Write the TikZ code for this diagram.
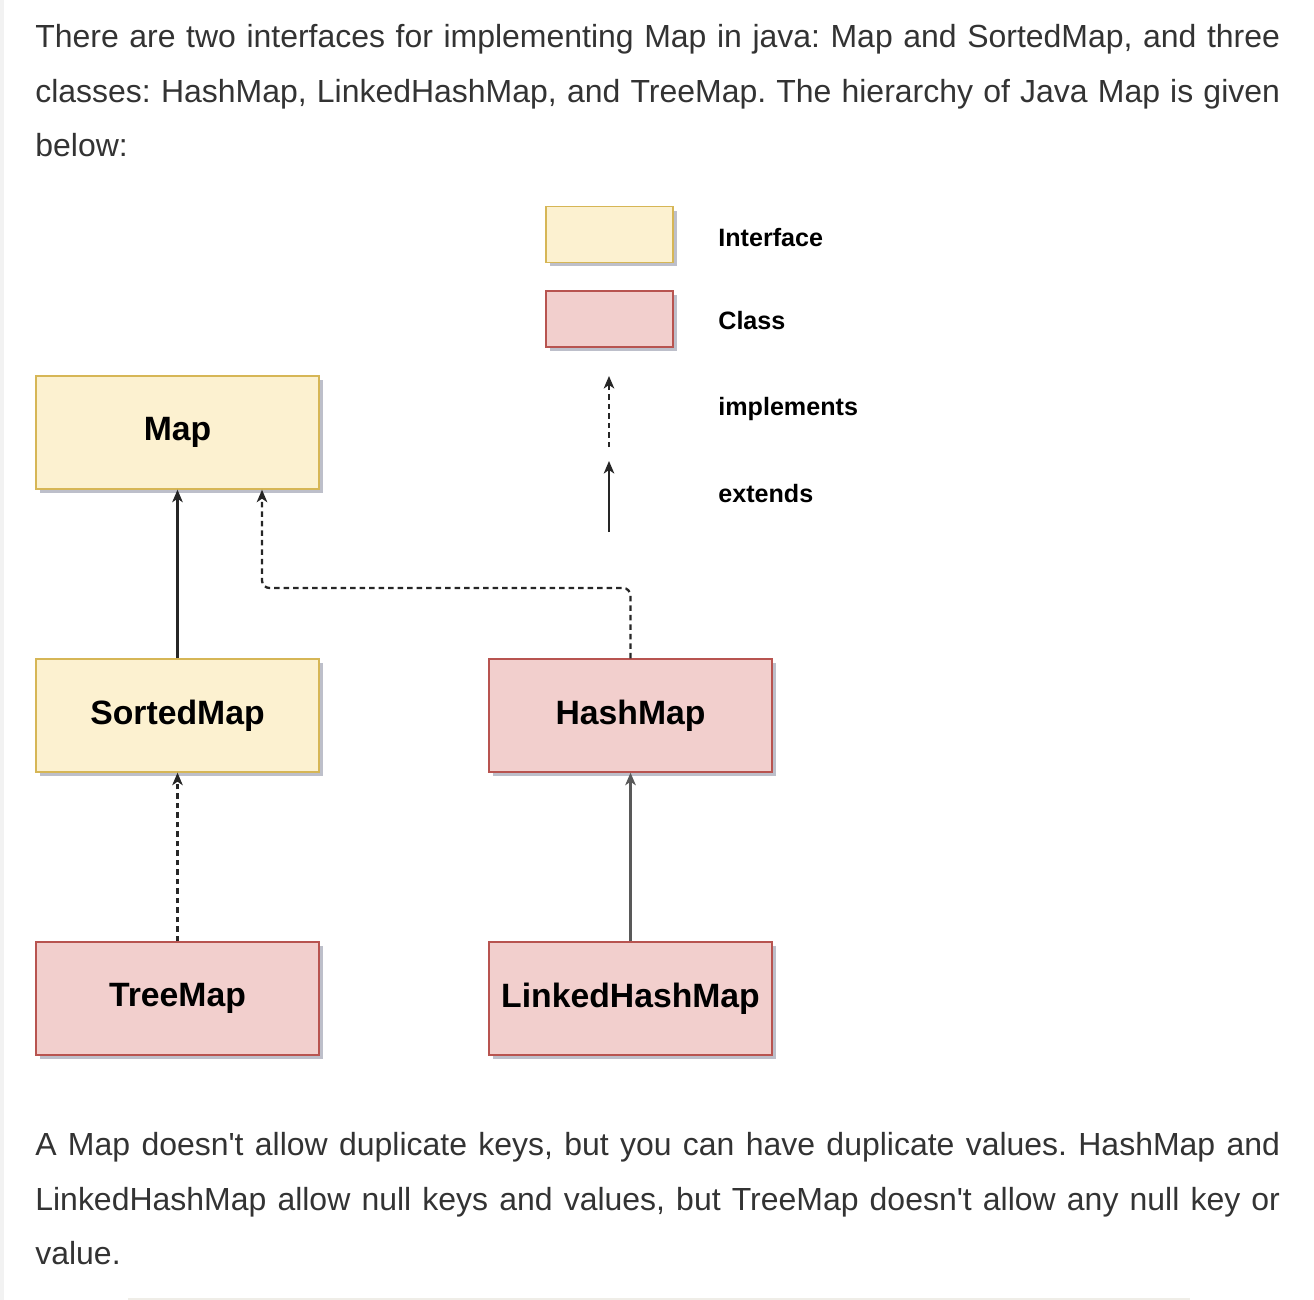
\documentclass[tikz,border=0pt]{standalone}
\usepackage{fontspec}
\setmainfont{Liberation Sans}
\usepackage{xcolor}
\usepackage{tikz}
\usetikzlibrary{arrows.meta, shadows, positioning}

\definecolor{ifaceFill}{HTML}{FCF1D0}
\definecolor{ifaceLine}{HTML}{D6B656}
\definecolor{classFill}{HTML}{F2CFCD}
\definecolor{classLine}{HTML}{B85450}
\definecolor{bodyText}{HTML}{333333}
\definecolor{shade}{HTML}{7C8096}

\frenchspacing

\begin{document}
\begin{tikzpicture}[
  x=0.02cm, y=-0.02cm,
  every node/.style = {inner sep=0pt},
  body/.style  = {anchor=base west, text=bodyText,
                  font=\fontsize{18.2}{21}\selectfont},
  uml/.style   = {draw, line width=0.8pt, minimum width=5.66cm,
                  minimum height=2.26cm, align=center,
                  font=\fontsize{19.2}{22}\selectfont\bfseries,
                  drop shadow={shadow xshift=0.08cm, shadow yshift=-0.08cm,
                               opacity=0.5, fill=shade}},
  iface/.style = {uml, fill=ifaceFill, draw=ifaceLine},
  cls/.style   = {uml, fill=classFill, draw=classLine},
  key/.style   = {minimum width=2.54cm, minimum height=1.12cm},
  keytxt/.style= {anchor=west, font=\fontsize{14.3}{17}\selectfont\bfseries},
  ext/.style   = {line width=1.3pt, black!85,
                  -{Stealth[length=0.25cm, width=0.21cm, inset=0.07cm]}},
  impl/.style  = {ext, dash pattern=on 0.11cm off 0.08cm},
]

\useasboundingbox (0,0) rectangle (1314,1300);

% Column x-positions
\def\xL{177.5}  % left column
\def\xR{630.5}  % right column
% Row y-positions
\def\yA{432.5}  % Map
\def\yB{715.5}  % SortedMap / HashMap
\def\yC{998.5}  % TreeMap / LinkedHashMap

% ── PAGE EDGES ──────────────────────────────────────────────────────────────
\fill[black!5] (0,0) rectangle (4,1300);
\draw[ifaceFill!60!gray!30, line width=1pt] (128,1299) -- (1190,1299);

% ── TEXT ABOVE ──────────────────────────────────────────────────────────────
\node[body] (t1) at (35,48)
  {\makebox[24.9cm][s]{There are two interfaces for implementing Map in java: Map and SortedMap, and three}};
\node[body] (t2) at (35,103)
  {\makebox[24.9cm][s]{classes: HashMap, LinkedHashMap, and TreeMap. The hierarchy of Java Map is given}};
\node[body] (t3) at (35,157) {below:};

% ── LEGEND ──────────────────────────────────────────────────────────────────
\node[iface, key] (kI) at (609.5,234.5) {};
\node[cls, key]   (kC) at (609.5,319)   {};
\node[keytxt] (lI) at (718,238) {Interface};
\node[keytxt] (lC) at (718,321) {Class};
\node[keytxt] (lM) at (718,409) {implements};
\node[keytxt] (lE) at (718,494) {extends};

\coordinate (m0) at (609,447);
\coordinate (m1) at (609,376);
\coordinate (e0) at (609,532);
\coordinate (e1) at (609,461);
\draw[impl] (m0) -- (m1);
\draw[ext]  (e0) -- (e1);

% ── HIERARCHY ───────────────────────────────────────────────────────────────
\node[iface] (Map)       at (\xL,\yA) {Map};
\node[iface] (SortedMap) at (\xL,\yB) {SortedMap};
\node[cls]   (TreeMap)   at (\xL,\yC) {TreeMap};
\node[cls]   (HashMap)   at (\xR,\yB) {HashMap};
\node[cls]   (LinkedHashMap) at (\xR,\yC) {LinkedHashMap};

\coordinate (bend) at (262,588);

\draw[ext]  (SortedMap.north) -- (Map.south);
\draw[impl, rounded corners=0.15cm]
  (HashMap.north) |- (bend) -- (bend |- Map.south);
\draw[impl] (TreeMap.north) -- (SortedMap.south);
\draw[ext, black!65] (LinkedHashMap.north) -- (HashMap.south);

% ── TEXT BELOW ──────────────────────────────────────────────────────────────
\node[body] (b1) at (35,1155)
  {\makebox[24.9cm][s]{A Map doesn\textquotesingle t allow duplicate keys, but you can have duplicate values. HashMap and}};
\node[body] (b2) at (35,1210)
  {\makebox[24.9cm][s]{LinkedHashMap allow null keys and values, but TreeMap doesn\textquotesingle t allow any null key or}};
\node[body] (b3) at (35,1264) {value.};

\end{tikzpicture}
\end{document}
